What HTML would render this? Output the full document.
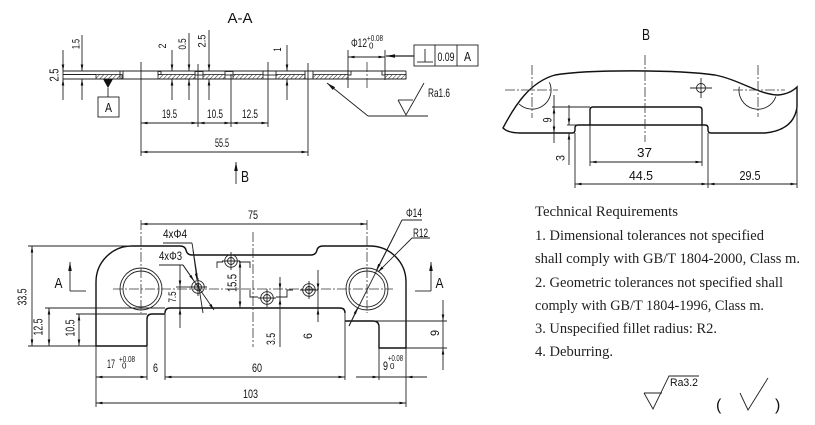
<!DOCTYPE html>
<html><head><meta charset="utf-8"><style>
html,body{margin:0;padding:0;background:#fff;}
svg{display:block;}
.d{stroke:#222;stroke-width:0.9;fill:none;}
.o{stroke:#111;stroke-width:1.4;fill:none;}
.c{stroke:#333;stroke-width:0.8;fill:none;stroke-dasharray:10 2 2 2;}
.t{font-family:"Liberation Sans Narrow","Liberation Sans",sans-serif;font-size:12px;fill:#111;}
.s{font-family:"Liberation Serif",serif;font-size:14.5px;fill:#222;}
</style></head><body>
<svg width="815" height="425" viewBox="0 0 815 425" xmlns="http://www.w3.org/2000/svg">
<defs>
<marker id="a" viewBox="0 0 10 4" refX="10" refY="2" markerWidth="7" markerHeight="2.6" markerUnits="userSpaceOnUse" orient="auto-start-reverse"><path d="M0,0L10,2L0,4z" fill="#111"/></marker>
<marker id="b" viewBox="0 0 10 4" refX="10" refY="2" markerWidth="9" markerHeight="3.6" markerUnits="userSpaceOnUse" orient="auto-start-reverse"><path d="M0,0L10,2L0,4z" fill="#111"/></marker>
<pattern id="h" patternUnits="userSpaceOnUse" width="3" height="3" patternTransform="rotate(45)"><line x1="0" y1="0" x2="0" y2="3" stroke="#222" stroke-width="1"/></pattern>
</defs>

<!-- ============ SECTION A-A ============ -->
<text class="t" x="240" y="23" text-anchor="middle" style="font-size:15px" textLength="25" lengthAdjust="spacingAndGlyphs">A-A</text>

<line x1="63" y1="71" x2="406" y2="71" class="d" stroke-width="1.2"/>
<line x1="63" y1="79" x2="406" y2="79" class="d" stroke-width="1.3"/>
<line x1="63" y1="74.5" x2="96" y2="74.5" class="d" stroke-width="0.7"/>
<line x1="63" y1="71" x2="63" y2="79" class="d"/>
<line x1="406" y1="71" x2="406" y2="79" class="d"/>
<g fill="url(#h)" stroke="#222" stroke-width="0.8">
<rect x="96" y="74.5" width="26" height="4.5"/>
<rect x="158" y="74.5" width="37" height="4.5"/>
<rect x="203" y="74.5" width="22" height="4.5"/>
<rect x="233" y="74.5" width="30" height="4.5"/>
<rect x="276" y="74.5" width="29" height="4.5"/>
<rect x="313" y="74.5" width="35" height="4.5"/>
<rect x="385" y="74.5" width="21" height="4.5"/>
</g>
<g fill="none" stroke="#222" stroke-width="0.9">
<rect x="120" y="71" width="3" height="8"/>
<rect x="158" y="71.5" width="3" height="3"/>
<rect x="195" y="71.5" width="8" height="3.5"/>
<rect x="225" y="71.5" width="8" height="3.5"/>
<rect x="263" y="71" width="13" height="4"/>
<rect x="305" y="71" width="8" height="8"/>
<rect x="348" y="71" width="3" height="4"/>
<rect x="382" y="71" width="3" height="4"/>
</g>

<path d="M103,79L113,79L108,88z" fill="#111"/>
<line x1="108" y1="88" x2="108" y2="97" class="d"/>
<rect x="98" y="97" width="21" height="20" class="d"/>
<text class="t" x="108.5" y="112" text-anchor="middle" style="font-size:13px" textLength="7" lengthAdjust="spacingAndGlyphs">A</text>

<g class="d">
<line x1="63" y1="50" x2="63" y2="71" marker-end="url(#a)"/><line x1="63" y1="100" x2="63" y2="79" marker-end="url(#a)"/>
<line x1="82" y1="35" x2="82" y2="71" marker-end="url(#a)"/><line x1="82" y1="100" x2="82" y2="79" marker-end="url(#a)"/>
<line x1="172" y1="50" x2="172" y2="71" marker-end="url(#a)"/><line x1="172" y1="100" x2="172" y2="79" marker-end="url(#a)"/>
<line x1="189" y1="33" x2="189" y2="71" marker-end="url(#a)"/><line x1="189" y1="100" x2="189" y2="79" marker-end="url(#a)"/>
<line x1="209" y1="30" x2="209" y2="71" marker-end="url(#a)"/><line x1="209" y1="100" x2="209" y2="79" marker-end="url(#a)"/>
<line x1="287" y1="45" x2="287" y2="71" marker-end="url(#a)"/><line x1="287" y1="100" x2="287" y2="79" marker-end="url(#a)"/>
</g>
<text class="t" style="font-size:13px" transform="translate(58.5,75) rotate(-90)" text-anchor="middle" textLength="13" lengthAdjust="spacingAndGlyphs">2.5</text>
<text class="t" style="font-size:11px" transform="translate(79.5,44) rotate(-90)" text-anchor="middle" textLength="10" lengthAdjust="spacingAndGlyphs">1.5</text>
<text class="t" style="font-size:11px" transform="translate(166,46) rotate(-90)" text-anchor="middle" textLength="5" lengthAdjust="spacingAndGlyphs">2</text>
<text class="t" style="font-size:11px" transform="translate(186,44) rotate(-90)" text-anchor="middle" textLength="11" lengthAdjust="spacingAndGlyphs">0.5</text>
<text class="t" style="font-size:11px" transform="translate(205.5,41) rotate(-90)" text-anchor="middle" textLength="13" lengthAdjust="spacingAndGlyphs">2.5</text>
<text class="t" style="font-size:11px" transform="translate(281,49.5) rotate(-90)" text-anchor="middle" textLength="4" lengthAdjust="spacingAndGlyphs">1</text>

<g class="d">
<line x1="141" y1="62" x2="141" y2="156"/>
<line x1="198" y1="64" x2="198" y2="127"/>
<line x1="231" y1="74" x2="231" y2="127"/>
<line x1="268" y1="62" x2="268" y2="127"/>
<line x1="308" y1="63" x2="308" y2="156"/>
<line x1="141" y1="123" x2="198" y2="123" marker-start="url(#a)" marker-end="url(#a)"/>
<line x1="198" y1="123" x2="231" y2="123" marker-start="url(#a)" marker-end="url(#a)"/>
<line x1="231" y1="123" x2="268" y2="123" marker-start="url(#a)" marker-end="url(#a)"/>
<line x1="141" y1="152" x2="308" y2="152" marker-start="url(#a)" marker-end="url(#a)"/>
</g>
<text class="t" x="169.5" y="118" text-anchor="middle" textLength="15" lengthAdjust="spacingAndGlyphs">19.5</text>
<text class="t" x="215" y="118" text-anchor="middle" textLength="16" lengthAdjust="spacingAndGlyphs">10.5</text>
<text class="t" x="250" y="118" text-anchor="middle" textLength="16" lengthAdjust="spacingAndGlyphs">12.5</text>
<text class="t" x="222" y="147" text-anchor="middle" textLength="14" lengthAdjust="spacingAndGlyphs">55.5</text>

<g class="d">
<line x1="348" y1="50" x2="348" y2="88"/>
<line x1="385" y1="50" x2="385" y2="80"/>
<line x1="348" y1="57" x2="385" y2="57" marker-start="url(#a)" marker-end="url(#a)"/>
<line x1="414" y1="56" x2="386" y2="56" marker-end="url(#b)" stroke-width="1.2"/>
<rect x="414" y="45" width="64" height="21"/>
<line x1="435" y1="45" x2="435" y2="66"/>
<line x1="457" y1="45" x2="457" y2="66"/>
<line x1="425" y1="49" x2="425" y2="62"/>
<line x1="417" y1="62" x2="433" y2="62"/>
</g>
<line x1="367" y1="62" x2="367" y2="88" class="c"/>
<text class="t" x="351" y="47" textLength="16" lengthAdjust="spacingAndGlyphs">Φ12</text>
<text class="t" x="367" y="41" style="font-size:8px" textLength="16" lengthAdjust="spacingAndGlyphs">+0.08</text>
<text class="t" x="369" y="48.5" style="font-size:8px">0</text>
<text class="t" x="446" y="61" text-anchor="middle" textLength="17" lengthAdjust="spacingAndGlyphs">0.09</text>
<text class="t" x="467.5" y="61" text-anchor="middle" style="font-size:13px" textLength="7" lengthAdjust="spacingAndGlyphs">A</text>

<g class="d">
<line x1="368" y1="116" x2="327" y2="83" marker-end="url(#b)"/>
<line x1="368" y1="116" x2="428" y2="116"/>
<polyline points="398,100 406,115 424,83"/>
<line x1="398" y1="100" x2="413" y2="100"/>
</g>
<text class="t" x="428" y="97" textLength="22" lengthAdjust="spacingAndGlyphs">Ra1.6</text>

<line x1="236" y1="184" x2="236" y2="162" class="d" stroke-width="1.2" marker-end="url(#b)"/>
<text class="t" x="241" y="182" style="font-size:16px" textLength="8" lengthAdjust="spacingAndGlyphs">B</text>

<!-- ============ VIEW B ============ -->
<text class="t" x="646" y="40" text-anchor="middle" style="font-size:16px" textLength="8" lengthAdjust="spacingAndGlyphs">B</text>
<path class="o" d="M503,128 C515,105 530,82 555,75 C590,69 680,70 715,75 C740,80 760,95 778,95 C789,94 794,90 797,87 L797,107 C795,122 785,131 765,133 L711,133 Q708,133 708,130 L708,128 Q708,125 705,125 L578,125 Q575,125 575,128 L575,130 Q575,133 572,133 L520,133 C512,133 506,131 503,128 Z"/>
<path class="o" d="M590,125 L590,110 Q590,107 593,107 L699,107 Q702,107 702,110 L702,125"/>
<path class="d" stroke-width="1.2" d="M549.4,82.3 A19,19 0 0 1 519,103.9"/>
<path class="d" stroke-width="1.2" d="M739.3,86.7 A19,19 0 0 0 775.9,96.5"/>
<circle cx="701" cy="88" r="4.5" class="d" stroke-width="1.1"/>
<g class="c">
<line x1="645" y1="55" x2="645" y2="142"/>
<line x1="505" y1="90" x2="558" y2="90"/>
<line x1="532" y1="65" x2="532" y2="118"/>
<line x1="733" y1="90" x2="785" y2="90"/>
<line x1="758" y1="65" x2="758" y2="117"/>
</g>
<g class="d">
<line x1="690" y1="88" x2="712" y2="88"/>
<line x1="701" y1="78" x2="701" y2="98"/>
<line x1="552" y1="107" x2="590" y2="107"/>
<line x1="554" y1="95" x2="554" y2="143"/>
<line x1="554" y1="115" x2="554" y2="107" marker-end="url(#a)"/>
<line x1="554" y1="125" x2="554" y2="133" marker-end="url(#a)"/>
<line x1="567" y1="125" x2="578" y2="125"/>
<line x1="569" y1="105" x2="569" y2="125" marker-end="url(#a)"/>
<line x1="569" y1="165" x2="569" y2="133" marker-end="url(#a)"/>
<line x1="590" y1="125" x2="590" y2="166"/>
<line x1="702" y1="125" x2="702" y2="166"/>
<line x1="590" y1="162" x2="702" y2="162" marker-start="url(#a)" marker-end="url(#a)"/>
<line x1="575" y1="133" x2="575" y2="188"/>
<line x1="708" y1="133" x2="708" y2="188"/>
<line x1="797" y1="107" x2="797" y2="188"/>
<line x1="575" y1="184" x2="708" y2="184" marker-start="url(#a)" marker-end="url(#a)"/>
<line x1="708" y1="184" x2="797" y2="184" marker-start="url(#a)" marker-end="url(#a)"/>
</g>
<text class="t" style="font-size:12px" transform="translate(551.5,120) rotate(-90)" text-anchor="middle" textLength="5" lengthAdjust="spacingAndGlyphs">9</text>
<text class="t" style="font-size:12px" transform="translate(564.5,158) rotate(-90)" text-anchor="middle" textLength="6" lengthAdjust="spacingAndGlyphs">3</text>
<text class="t" x="644.5" y="157" style="font-size:13px" text-anchor="middle" textLength="15" lengthAdjust="spacingAndGlyphs">37</text>
<text class="t" x="641" y="180" style="font-size:13px" text-anchor="middle" textLength="24" lengthAdjust="spacingAndGlyphs">44.5</text>
<text class="t" x="750" y="180" style="font-size:13px" text-anchor="middle" textLength="21" lengthAdjust="spacingAndGlyphs">29.5</text>

<!-- ============ PLAN VIEW ============ -->
<path class="o" d="M147,346 L96,346 L96,282 A36,36 0 0 1 132,246 L180,246 Q185,246 186,250 Q187,255 192,255 L311,255 Q316,255 317,250 Q318,246 323,246 L370,246 A36,36 0 0 1 406,282 L406,348 L379,348 L379,327 Q379,321 373,321 L345,321"/>
<path class="o" d="M147,346 L147,319 Q147,314 152,314 L165,314"/>
<path class="o" d="M165,313 Q165,308 170,308 L340,308 Q345,308 345,313"/>
<g class="d">
<line x1="165" y1="313" x2="165" y2="380"/>
<line x1="345" y1="313" x2="345" y2="380"/>
<line x1="45" y1="308" x2="165" y2="308"/>
<line x1="76" y1="314" x2="147" y2="314"/>
<line x1="28" y1="246" x2="132" y2="246"/>
<line x1="28" y1="346" x2="96" y2="346"/>
<line x1="147" y1="346" x2="147" y2="380"/>
<line x1="379" y1="348" x2="379" y2="380"/>
<line x1="96" y1="346" x2="96" y2="407"/>
<line x1="406" y1="348" x2="406" y2="407"/>
<line x1="373" y1="321" x2="447" y2="321"/>
<line x1="406" y1="348" x2="447" y2="348"/>
</g>
<g class="d" stroke-width="1.3">
<circle cx="141" cy="289" r="21"/><circle cx="141" cy="289" r="18"/>
<circle cx="367" cy="289" r="21"/><circle cx="367" cy="289" r="18"/>
<circle cx="198" cy="287" r="6.3"/><circle cx="198" cy="287" r="3.5"/>
<circle cx="231" cy="261" r="6.3"/><circle cx="231" cy="261" r="3.5"/>
<circle cx="267" cy="298" r="6.3"/><circle cx="267" cy="298" r="3.5"/>
<circle cx="309" cy="290" r="6.3"/><circle cx="309" cy="290" r="3.5"/>
</g>
<g class="d" stroke-width="0.8">
<line x1="189" y1="287" x2="207" y2="287"/><line x1="198" y1="278" x2="198" y2="296"/>
<line x1="222" y1="261" x2="240" y2="261"/><line x1="231" y1="252" x2="231" y2="270"/>
<line x1="258" y1="298" x2="276" y2="298"/><line x1="267" y1="289" x2="267" y2="307"/>
<line x1="300" y1="290" x2="318" y2="290"/><line x1="309" y1="281" x2="309" y2="299"/>
<polyline points="217,268 217,262 223,262"/>
<polyline points="239,262 250,262 250,268"/>
<polyline points="250,290 250,297 258,297"/>
<polyline points="276,297 287,297 287,290 293,290"/>
</g>
<g class="c">
<line x1="113" y1="289" x2="393" y2="289"/>
<line x1="141" y1="220" x2="141" y2="313"/>
<line x1="367" y1="220" x2="367" y2="313"/>
<line x1="253" y1="232" x2="253" y2="347"/>
</g>

<g class="d">
<line x1="141" y1="224" x2="367" y2="224" marker-start="url(#a)" marker-end="url(#a)"/>
<line x1="32" y1="246" x2="32" y2="346" marker-start="url(#a)" marker-end="url(#a)"/>
<line x1="49" y1="308" x2="49" y2="346" marker-start="url(#a)" marker-end="url(#a)"/>
<line x1="79" y1="314" x2="79" y2="346" marker-start="url(#a)" marker-end="url(#a)"/>
<line x1="176" y1="287" x2="192" y2="287"/>
<line x1="180" y1="265" x2="180" y2="287" marker-end="url(#a)"/>
<line x1="180" y1="287" x2="180" y2="308"/>
<line x1="180" y1="328" x2="180" y2="308" marker-end="url(#a)"/>
<line x1="240" y1="261" x2="240" y2="308" marker-start="url(#a)" marker-end="url(#a)"/>
<line x1="280" y1="277" x2="280" y2="290" marker-end="url(#a)"/>
<line x1="280" y1="290" x2="280" y2="298"/>
<line x1="280" y1="347" x2="280" y2="298" marker-end="url(#a)"/>
<line x1="318" y1="270" x2="318" y2="290" marker-end="url(#a)"/>
<line x1="318" y1="290" x2="318" y2="308"/>
<line x1="318" y1="322" x2="318" y2="308" marker-end="url(#a)"/>
<line x1="443" y1="300" x2="443" y2="321" marker-end="url(#a)"/>
<line x1="443" y1="321" x2="443" y2="348"/>
<line x1="443" y1="370" x2="443" y2="348" marker-end="url(#a)"/>
<line x1="96" y1="377" x2="147" y2="377" marker-start="url(#a)" marker-end="url(#a)"/>
<line x1="165" y1="377" x2="345" y2="377" marker-start="url(#a)" marker-end="url(#a)"/>
<line x1="356" y1="377" x2="379" y2="377" marker-end="url(#a)"/>
<line x1="379" y1="377" x2="406" y2="377"/>
<line x1="427" y1="377" x2="406" y2="377" marker-end="url(#a)"/>
<line x1="96" y1="403" x2="406" y2="403" marker-start="url(#a)" marker-end="url(#a)"/>
<line x1="163" y1="243" x2="192" y2="243"/>
<line x1="192" y1="243" x2="203" y2="313"/>
<line x1="193" y1="250" x2="197" y2="280" marker-end="url(#a)"/>
<line x1="159" y1="265" x2="183" y2="265"/>
<line x1="183" y1="265" x2="214" y2="310" marker-end="url(#a)"/>
<line x1="183" y1="265" x2="194" y2="281" marker-end="url(#a)"/>
<line x1="402" y1="220" x2="422" y2="220"/>
<line x1="402" y1="220" x2="349" y2="326"/>
<line x1="395" y1="234" x2="376.4" y2="270.2" marker-end="url(#a)"/>
<line x1="349" y1="326" x2="357.6" y2="307.8" marker-end="url(#a)"/>
<line x1="412" y1="238" x2="430" y2="238"/>
<line x1="412" y1="238" x2="378" y2="272" marker-end="url(#a)"/>
</g>
<g class="d" stroke-width="1.5">
<line x1="70" y1="291" x2="70" y2="262" marker-end="url(#b)"/>
<line x1="70" y1="291" x2="86" y2="291"/>
<line x1="431" y1="291" x2="431" y2="262" marker-end="url(#b)"/>
<line x1="415" y1="291" x2="431" y2="291"/>
</g>
<text class="t" x="58.5" y="288" text-anchor="middle" style="font-size:15px" textLength="8" lengthAdjust="spacingAndGlyphs">A</text>
<text class="t" x="439.5" y="288" text-anchor="middle" style="font-size:15px" textLength="8" lengthAdjust="spacingAndGlyphs">A</text>

<text class="t" x="253" y="219" text-anchor="middle" textLength="10" lengthAdjust="spacingAndGlyphs">75</text>
<text class="t" x="163" y="238" textLength="24" lengthAdjust="spacingAndGlyphs">4xΦ4</text>
<text class="t" x="159" y="260" textLength="23" lengthAdjust="spacingAndGlyphs">4xΦ3</text>
<text class="t" x="406" y="217" textLength="16" lengthAdjust="spacingAndGlyphs">Φ14</text>
<text class="t" x="413" y="237" textLength="15" lengthAdjust="spacingAndGlyphs">R12</text>
<text class="t" style="font-size:13px" transform="translate(26.5,297) rotate(-90)" text-anchor="middle" textLength="17" lengthAdjust="spacingAndGlyphs">33.5</text>
<text class="t" style="font-size:13px" transform="translate(42.5,327) rotate(-90)" text-anchor="middle" textLength="17" lengthAdjust="spacingAndGlyphs">12.5</text>
<text class="t" style="font-size:13px" transform="translate(74.5,328) rotate(-90)" text-anchor="middle" textLength="17" lengthAdjust="spacingAndGlyphs">10.5</text>
<text class="t" style="font-size:11px" transform="translate(176,297) rotate(-90)" text-anchor="middle" textLength="11" lengthAdjust="spacingAndGlyphs">7.5</text>
<text class="t" style="font-size:13px" transform="translate(236.5,283) rotate(-90)" text-anchor="middle" textLength="18" lengthAdjust="spacingAndGlyphs">15.5</text>
<text class="t" style="font-size:12px" transform="translate(275,339) rotate(-90)" text-anchor="middle" textLength="12" lengthAdjust="spacingAndGlyphs">3.5</text>
<text class="t" style="font-size:12px" transform="translate(312,336) rotate(-90)" text-anchor="middle" textLength="6" lengthAdjust="spacingAndGlyphs">6</text>
<text class="t" style="font-size:12px" transform="translate(439,333) rotate(-90)" text-anchor="middle" textLength="6" lengthAdjust="spacingAndGlyphs">9</text>
<text class="t" x="107" y="368" textLength="8" lengthAdjust="spacingAndGlyphs">17</text>
<text class="t" x="119" y="362" style="font-size:8px" textLength="16" lengthAdjust="spacingAndGlyphs">+0.08</text>
<text class="t" x="122" y="368.5" style="font-size:8px">0</text>
<text class="t" x="155.5" y="372" text-anchor="middle" textLength="5" lengthAdjust="spacingAndGlyphs">6</text>
<text class="t" x="257" y="372" text-anchor="middle" textLength="10" lengthAdjust="spacingAndGlyphs">60</text>
<text class="t" x="383" y="370" textLength="5" lengthAdjust="spacingAndGlyphs">9</text>
<text class="t" x="388" y="361" style="font-size:8px" textLength="15" lengthAdjust="spacingAndGlyphs">+0.08</text>
<text class="t" x="390" y="369" style="font-size:8px">0</text>
<text class="t" x="250.5" y="398" text-anchor="middle" textLength="15" lengthAdjust="spacingAndGlyphs">103</text>

<!-- ============ TECH REQUIREMENTS ============ -->
<text class="s" x="535" y="216" textLength="143" lengthAdjust="spacingAndGlyphs">Technical Requirements</text>
<text class="s" x="535" y="240" textLength="229" lengthAdjust="spacingAndGlyphs">1. Dimensional tolerances not specified</text>
<text class="s" x="535" y="263" textLength="265" lengthAdjust="spacingAndGlyphs">shall comply with GB/T 1804-2000, Class m.</text>
<text class="s" x="535" y="287" textLength="248" lengthAdjust="spacingAndGlyphs">2. Geometric tolerances not specified shall</text>
<text class="s" x="535" y="310" textLength="229" lengthAdjust="spacingAndGlyphs">comply with GB/T 1804-1996, Class m.</text>
<text class="s" x="535" y="333" textLength="182" lengthAdjust="spacingAndGlyphs">3. Unspecified fillet radius: R2.</text>
<text class="s" x="535" y="356" textLength="78" lengthAdjust="spacingAndGlyphs">4. Deburring.</text>

<g class="d" stroke-width="1">
<polyline points="644,393 653,409 669,376 699,376"/>
<line x1="644" y1="393" x2="662" y2="393"/>
<polyline points="740,393 748,410 768,378"/>
</g>
<text class="t" x="670" y="386" style="font-size:11px" textLength="28" lengthAdjust="spacingAndGlyphs">Ra3.2</text>
<text class="t" x="716" y="410" style="font-size:16px">(</text>
<text class="t" x="775" y="410" style="font-size:16px">)</text>
</svg>
</body></html>
